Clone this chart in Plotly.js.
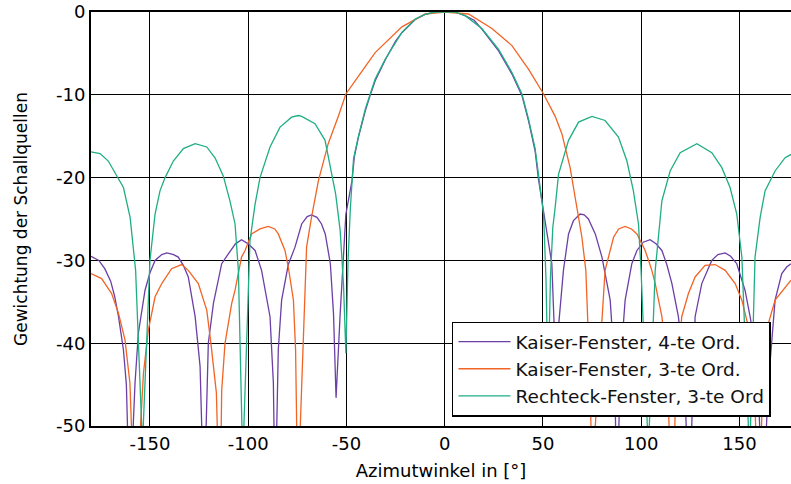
<!DOCTYPE html>
<html>
<head>
<meta charset="utf-8">
<script src="https://cdn.plot.ly/plotly-3.0.1.min.js"></script>
<style>html,body{margin:0;padding:0;background:#fff;}#chart{width:791px;height:484px;}</style>
</head>
<body>
<div id="chart"></div>
<script>
// Series names
const seriesNames = ["Kaiser-Fenster, 4-te Ord.", "Kaiser-Fenster, 3-te Ord.", "Rechteck-Fenster, 3-te Ord"];

// Kaiser-Fenster, 4-te Ord. (azimuth in degrees, weighting in dB)
const kaiser4Az = [-180,-176,-173,-170,-168,-166,-163.5,-162,-160.3,-157.6,-155.9,-152.5,-150,-147.4,-144,-141.4,-138,-135.6,-133,-130.5,-127,-124.5,-122.5,-120.3,-117.7,-113.5,-110.1,-106.5,-103.4,-100,-96.5,-93.2,-88.9,-87.2,-86.3,-84.7,-83,-79.6,-76.2,-72.8,-70,-67.8,-65,-62.7,-60.8,-58.2,-56.6,-55.3,-53.2,-50.3,-47.2,-46,-44,-40.5,-38,-35.4,-30.3,-25,-21.8,-15,-10,-5,0,5,10,15,19,27.4,34.2,39.3,42.6,46,47.7,50.3,52,54.5,55.7,56.3,57.9,60.4,63,65.5,68.9,71,73.1,76.6,80,84.2,86.4,87.7,89.3,91.8,95.2,97.8,101,104.5,107.5,110.5,113,115.6,118.9,121.8,124.4,127.4,130.8,135.9,139,142.7,145.5,148.6,152.8,155.4,159,161.8,164.7,168.1,171.5,174,176.2];
const kaiser4Db = [-29.5,-30.0,-31.0,-32.5,-34.3,-36.8,-40.8,-45,-60,-44.8,-38.8,-33.6,-31.5,-30.0,-29.3,-29.1,-29.3,-29.6,-30.6,-32.0,-36.8,-42.8,-60,-40,-35.2,-30.4,-29.2,-28.0,-27.5,-28.0,-28.8,-31.2,-36.8,-44.8,-60,-40.8,-34.8,-30.5,-28.4,-25.6,-24.7,-24.5,-24.8,-25.6,-26.8,-30.4,-36.4,-46.6,-36.4,-24.4,-20.4,-17.5,-15.2,-12.0,-10.1,-8.3,-5.8,-3.5,-2.5,-0.9,-0.3,0,0,0,-0.4,-1.0,-2.1,-4.7,-7.5,-10.1,-13.1,-16.8,-20.2,-24.0,-26.4,-30.4,-38,-47,-38,-31.2,-26.8,-25.2,-24.4,-24.5,-25.0,-26.8,-29.6,-34.8,-42.8,-60,-42.8,-34.8,-30.4,-28.8,-27.8,-27.5,-28.0,-28.8,-30.5,-32.8,-36.8,-43,-60,-36.8,-32.8,-30.0,-29.3,-29.1,-29.5,-30.4,-33.6,-36.8,-42,-60,-44.8,-34.8,-31.6,-30.8,-30.4];

// Kaiser-Fenster, 3-te Ord.
const kaiser3Az = [-180,-174.6,-169.5,-166,-162.7,-160.2,-157.6,-153.3,-150.8,-147.4,-144,-139,-133.9,-130.5,-125.4,-122.8,-121.1,-119,-116.2,-114.4,-113.5,-111.8,-108.4,-106.7,-103.4,-101.6,-98.3,-94,-89.8,-86.5,-84.7,-81.3,-79.6,-77,-75.9,-74.6,-73.5,-70.3,-67.8,-64.3,-59.3,-54,-50.3,-43.8,-35.4,-21.8,-9.9,0,12.1,24,34.2,42.6,50.3,56.2,59.6,63.8,67.2,69.8,71.8,74,75.4,76.6,81.6,85.9,88.5,91.8,95,97.8,102,105.4,107.1,110.5,113,115.9,117.5,120.6,124,127.4,132.5,137.6,142.7,147.8,151.2,154.5,157.5,159.6,162,164.7,168.1,173.2,176.2];
const kaiser3Db = [-31.6,-32.2,-34.0,-36.4,-39.6,-44.8,-62,-43.6,-38.4,-34.4,-32.8,-31.0,-30.5,-31.2,-32.8,-34.8,-36.0,-40.0,-46.0,-62,-45.7,-40.0,-35.2,-33.6,-29.6,-28.8,-26.8,-26.2,-25.9,-26.2,-26.8,-28.8,-30.8,-34.8,-40.8,-62,-50,-28.4,-24.8,-20.4,-15.9,-12.5,-9.9,-7.7,-4.9,-1.8,-0.24,0,-0.24,-2.0,-4.06,-6.9,-9.9,-12.6,-14.7,-18.8,-23.6,-27.2,-31.2,-45,-62,-50,-31.2,-27.2,-26.2,-25.9,-26.2,-26.8,-28.8,-31.2,-32.8,-36.8,-42,-62,-46,-36.8,-34.0,-32.0,-30.6,-30.5,-31.2,-32.8,-34.8,-38.0,-44,-62,-44,-37.6,-34.8,-33.2,-32.4];

// Rechteck-Fenster, 3-te Ord
const rectAz = [-180,-175.4,-171.2,-166.9,-163.5,-160.1,-158.4,-157.3,-154.2,-153.8,-153.4,-150,-147.4,-144.9,-142.3,-138.1,-133,-127,-121.1,-116.9,-112.7,-109.3,-106.7,-105,-103.2,-102.7,-102.2,-99.1,-96.5,-94,-88.9,-83.8,-77.9,-74.5,-72.8,-66,-60.9,-57.4,-55.5,-53.2,-51.5,-50.3,-49.2,-48,-46.4,-43.8,-40.4,-37.9,-35.4,-30.3,-21.8,-15,-10,-4.8,0,5,10.4,18.9,27.4,34.2,39.3,42.6,46,47.7,50.3,51.5,52.6,53.8,55,56.2,57.9,63,68.1,74.9,81.6,88.4,92.7,96,98.6,99.9,103.1,103.6,104.1,107.1,110.5,114.7,119.8,128.3,135.9,141,145.2,148.6,151.2,154.5,155,155.6,157.9,160.5,163,168.1,173.2,176.2];
const rectDb = [-16.9,-17.1,-18.0,-19.8,-21.2,-24.8,-28.4,-31.2,-50,-62,-50,-30.0,-24.4,-21.6,-20.0,-18.0,-16.5,-15.9,-16.3,-17.6,-19.8,-22.8,-25.6,-31.2,-50,-62,-50,-27.6,-23.2,-20.0,-16.3,-13.9,-12.7,-12.5,-12.6,-13.5,-15.5,-19.5,-22.0,-26.4,-33.0,-41.2,-30.0,-23.6,-17.7,-14.9,-11.7,-9.9,-8.1,-5.7,-2.45,-0.84,-0.3,0,0,0,-0.44,-2.0,-4.5,-7.3,-9.9,-12.9,-16.5,-19.7,-24.4,-32.0,-45,-32.0,-26.0,-23.6,-19.6,-15.5,-13.3,-12.6,-13.1,-15.1,-18.0,-21.6,-25.6,-31.2,-50,-62,-50,-31.2,-22.8,-19.2,-17.0,-15.9,-17.0,-18.8,-21.2,-24.4,-29.6,-50,-62,-50,-29.6,-24.8,-21.6,-19.2,-17.6,-17.2];

// Axis ticks
const xTickVals = [-150, -100, -50, 0, 50, 100, 150];
const xTickText = ["-150", "-100", "-50", "0", "50", "100", "150"];
const yTickVals = [0, -10, -20, -30, -40, -50];
const yTickText = ["0", "-10", "-20", "-30", "-40", "-50"];

const colors = ["#6b3fa6", "#f26424", "#1fae84"];
const FONT = "DejaVu Sans, Liberation Sans, Arial, sans-serif";

const traces = [
  {x: kaiser4Az, y: kaiser4Db, name: seriesNames[0], color: colors[0]},
  {x: kaiser3Az, y: kaiser3Db, name: seriesNames[1], color: colors[1]},
  {x: rectAz, y: rectDb, name: seriesNames[2], color: colors[2]}
].map(s => ({
  type: "scatter", mode: "lines", x: s.x, y: s.y, name: s.name,
  line: {color: s.color, width: 1.3}, showlegend: true, cliponaxis: true
}));

const layout = {
  width: 791, height: 484,
  margin: {l: 91, r: 0, t: 12, b: 58, pad: 0},
  paper_bgcolor: "#ffffff", plot_bgcolor: "#ffffff",
  font: {family: FONT, size: 18, color: "#000"},
  xaxis: {
    range: [-180, 176.2], tickvals: xTickVals, ticktext: xTickText,
    showgrid: true, gridcolor: "#000", gridwidth: 1, zeroline: false,
    showline: true, linecolor: "#000", linewidth: 2, mirror: true,
    ticks: "", tickfont: {family: FONT, size: 18, color: "#000"},
    title: {text: "Azimutwinkel in [°]", font: {family: FONT, size: 18, color: "#000"}, standoff: 12}
  },
  yaxis: {
    range: [-50, 0], tickvals: yTickVals, ticktext: yTickText,
    showgrid: true, gridcolor: "#000", gridwidth: 1, zeroline: false,
    showline: true, linecolor: "#000", linewidth: 2, mirror: true,
    ticks: "", tickfont: {family: FONT, size: 18, color: "#000"},
    title: {text: "Gewichtung der Schallquellen", font: {family: FONT, size: 17, color: "#000"}, standoff: 24}
  },
  legend: {
    x: 0.5157, y: 0.252, xanchor: "left", yanchor: "top",
    bgcolor: "#ffffff", bordercolor: "#000", borderwidth: 1.5,
    font: {family: FONT, size: 18.5, color: "#111"}, tracegroupgap: 0,
    itemwidth: 52, entrywidth: 330, entrywidthmode: "pixels"
  },
  showlegend: true
};

Plotly.newPlot("chart", traces, layout, {staticPlot: true, displayModeBar: false});
</script>
</body>
</html>
